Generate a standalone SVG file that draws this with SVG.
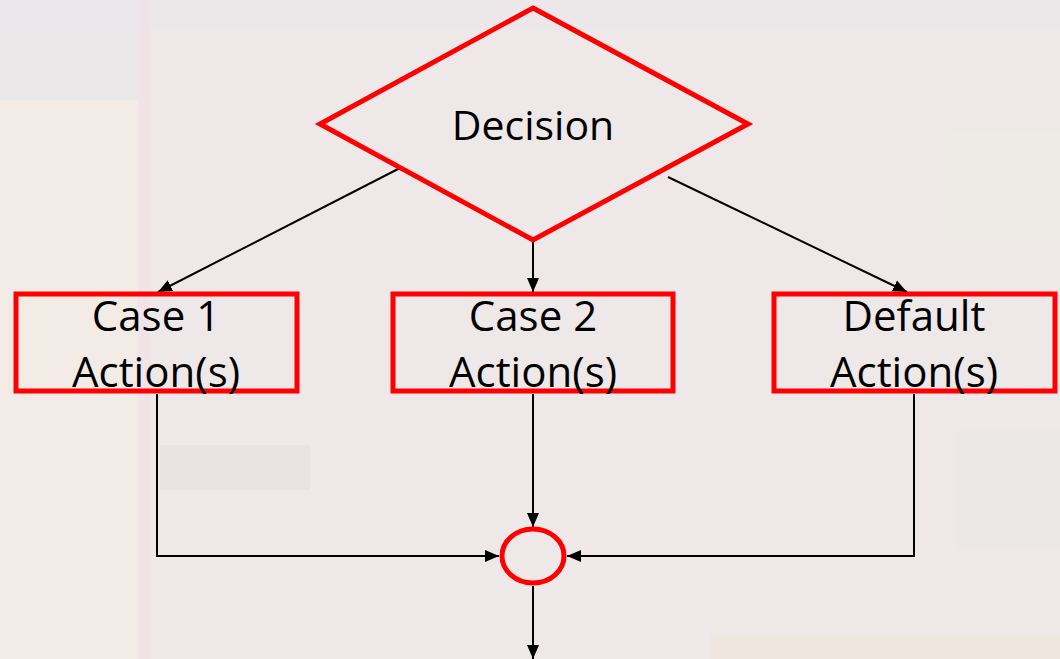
<svg xmlns="http://www.w3.org/2000/svg" width="1060" height="659" viewBox="0 0 1060 659">
<style>
.shape{fill:none;stroke:#ff0000;stroke-width:5}
.lbl{font-family:"Open Sans","Liberation Sans",sans-serif;font-size:42px;fill:#000;text-anchor:middle}
.wire{fill:none;stroke:#000;stroke-width:2}
</style>
<defs>
<marker id="arr" markerUnits="userSpaceOnUse" markerWidth="16" markerHeight="16" viewBox="0 0 16 16" refX="14" refY="8" orient="auto">
<path d="M0,2 L14,8 L0,14 Z" fill="#000"/>
</marker>
</defs>
<g id="background">
<rect x="0" y="0" width="1060" height="659" fill="#eee9e8"/>
<rect x="0" y="0" width="140" height="100" fill="#ebe8ea"/>
<rect x="0" y="100" width="140" height="559" fill="#f3ece6"/>
<rect x="138" y="0" width="12" height="659" fill="#f2e3e8"/>
<rect x="160" y="445" width="150" height="45" fill="#e6dcdd" opacity="0.5"/>
<rect x="955" y="430" width="105" height="120" fill="#e9e8e4" opacity="0.6"/>
<rect x="710" y="635" width="350" height="24" fill="#efe6e0"/>
<rect x="945" y="130" width="115" height="110" fill="#efede4" opacity="0.6"/>
<rect x="0" y="0" width="1060" height="30" fill="#ebe6e9" opacity="0.6"/>
</g>
<g id="connectors">
<line class="wire" x1="400" y1="168" x2="158" y2="292" marker-end="url(#arr)"/>
<line class="wire" x1="533" y1="240" x2="533" y2="292" marker-end="url(#arr)"/>
<line class="wire" x1="668" y1="177" x2="907" y2="292" marker-end="url(#arr)"/>
<polyline class="wire" points="157,394 157,556 499,556" marker-end="url(#arr)"/>
<line class="wire" x1="533" y1="394" x2="533" y2="527" marker-end="url(#arr)"/>
<polyline class="wire" points="914,394 914,556 567,556" marker-end="url(#arr)"/>
<line class="wire" x1="533" y1="586" x2="533" y2="659" marker-end="url(#arr)"/>
</g>
<g id="decision">
<polygon class="shape" points="533,8 748,124 533,240 320,124"/>
<text class="lbl" x="533" y="140" style="font-size:41px">Decision</text>
</g>
<g id="case1">
<rect class="shape" x="16" y="294" width="281" height="97"/>
<text class="lbl" x="156" y="331">Case 1</text>
<text class="lbl" x="156" y="387">Action(s)</text>
</g>
<g id="case2">
<rect class="shape" x="393" y="294" width="280" height="97"/>
<text class="lbl" x="533" y="331">Case 2</text>
<text class="lbl" x="533" y="387">Action(s)</text>
</g>
<g id="default">
<rect class="shape" x="774" y="294" width="281" height="97"/>
<text class="lbl" x="914" y="331">Default</text>
<text class="lbl" x="914" y="387">Action(s)</text>
</g>
<g id="merge">
<ellipse class="shape" cx="533" cy="556" rx="31" ry="27"/>
</g>
</svg>
